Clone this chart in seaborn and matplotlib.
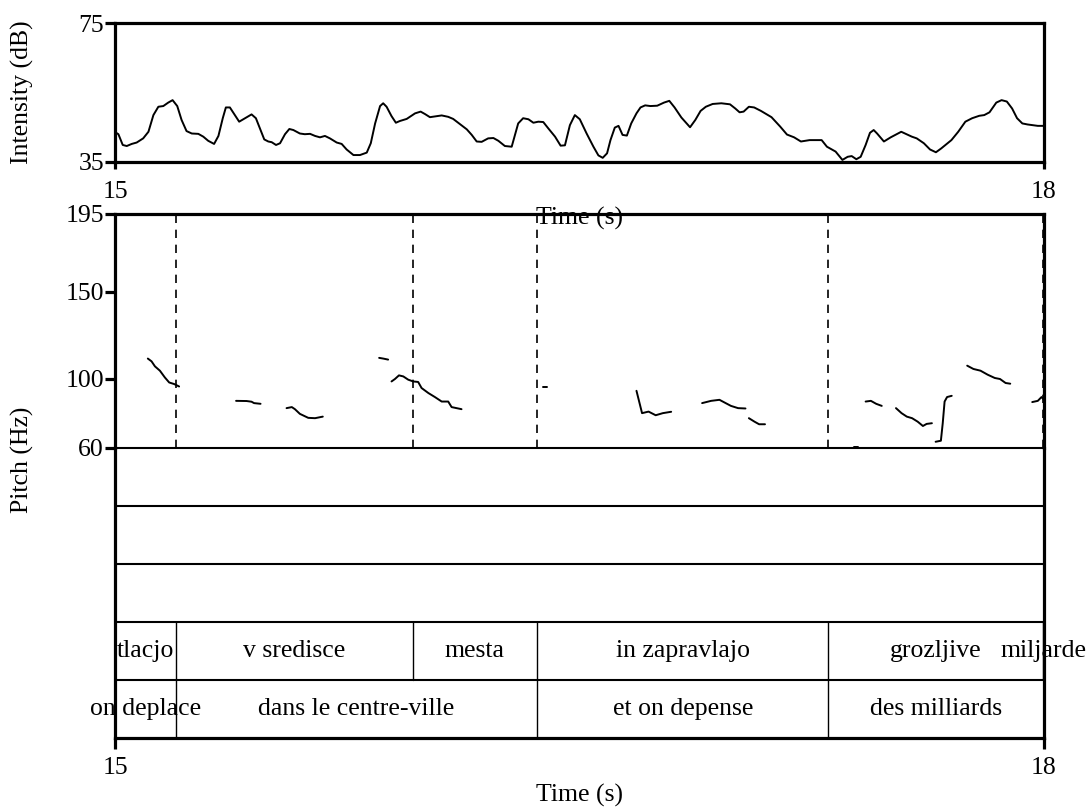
import numpy as np
import pandas as pd
import matplotlib
matplotlib.use("Agg")
import matplotlib.pyplot as plt
import seaborn as sns

# intensity contour, time (s) / dB
int_time = [15.0, 15.011, 15.025, 15.038, 15.054, 15.070, 15.091, 15.108, 15.124, 15.140, 15.156, 15.172,
            15.186, 15.201, 15.215, 15.231, 15.248, 15.269, 15.285, 15.301, 15.320, 15.334, 15.348,
            15.358, 15.371, 15.385, 15.401, 15.420, 15.441, 15.455, 15.468, 15.482, 15.495, 15.506,
            15.520, 15.533, 15.549, 15.563, 15.576, 15.597, 15.613, 15.630, 15.646, 15.662, 15.678,
            15.694, 15.716, 15.732, 15.748, 15.770, 15.791, 15.813, 15.826, 15.840, 15.856, 15.866,
            15.877, 15.893, 15.907, 15.920, 15.942, 15.969, 15.987, 16.001, 16.017, 16.039, 16.055,
            16.076, 16.092, 16.114, 16.136, 16.152, 16.168, 16.184, 16.205, 16.222, 16.238, 16.259,
            16.281, 16.302, 16.318, 16.335, 16.351, 16.367, 16.383, 16.399, 16.421, 16.439, 16.453,
            16.469, 16.485, 16.501, 16.523, 16.545, 16.561, 16.575, 16.589, 16.600, 16.614, 16.626,
            16.639, 16.653, 16.667, 16.684, 16.697, 16.712, 16.729, 16.751, 16.773, 16.790, 16.807,
            16.829, 16.857, 16.874, 16.891, 16.908, 16.930, 16.958, 16.986, 17.003, 17.017, 17.030,
            17.047, 17.064, 17.086, 17.120, 17.148, 17.170, 17.193, 17.215, 17.243, 17.282, 17.299,
            17.327, 17.349, 17.366, 17.379, 17.394, 17.408, 17.424, 17.438, 17.450, 17.461, 17.483,
            17.505, 17.539, 17.573, 17.589, 17.612, 17.632, 17.651, 17.668, 17.701, 17.723, 17.746,
            17.768, 17.791, 17.807, 17.824, 17.846, 17.863, 17.880, 17.897, 17.913, 17.930, 17.947,
            17.964, 17.980, 17.997, 18.0]
int_db = [43.6, 43.0, 39.9, 39.6, 40.2, 40.6, 41.8, 43.7, 48.5, 50.9, 51.1, 52.1,
          52.8, 51.1, 47.1, 43.9, 43.2, 43.1, 42.3, 41.1, 40.2, 42.5, 47.6,
          50.7, 50.7, 48.8, 46.6, 47.6, 48.7, 47.6, 44.7, 41.5, 40.9, 40.7,
          39.9, 40.4, 43.0, 44.5, 44.2, 43.2, 43.0, 43.1, 42.5, 42.1, 42.5,
          41.8, 40.6, 40.2, 38.6, 37.0, 37.0, 37.7, 40.4, 46.1, 51.1, 51.9,
          50.9, 48.2, 46.3, 46.8, 47.4, 49.0, 49.5, 48.8, 47.9, 48.2, 48.4,
          48.0, 47.4, 45.9, 44.4, 42.8, 40.9, 40.8, 41.8, 41.9, 41.1, 39.6,
          39.4, 46.1, 47.6, 47.3, 46.3, 46.6, 46.5, 44.7, 42.3, 39.7, 39.8,
          45.6, 48.5, 47.3, 43.2, 39.4, 36.9, 36.2, 37.5, 41.3, 44.9, 45.4,
          42.8, 42.6, 46.1, 49.0, 50.7, 51.3, 51.1, 51.2, 52.1, 52.6, 50.7,
          47.8, 45.0, 47.1, 49.7, 50.9, 51.7, 51.9, 51.6, 50.4, 49.3, 49.5,
          50.9, 50.7, 49.7, 47.9, 45.2, 42.9, 42.1, 40.9, 41.3, 41.3, 39.4,
          38.0, 35.6, 36.5, 36.7, 35.8, 36.5, 39.9, 43.4, 44.2, 43.2, 40.9,
          42.1, 43.7, 42.3, 41.8, 40.4, 38.6, 37.8, 38.9, 41.3, 43.7, 46.6,
          47.6, 48.3, 48.5, 49.3, 52.1, 52.8, 52.4, 50.4, 47.6, 46.1, 45.8,
          45.6, 45.4, 45.4, 45.5]

# pitch contour pieces, time (s) / Hz / piece id
pitch_time = [15.106, 15.118, 15.129, 15.145, 15.161, 15.175, 15.191, 15.207,
              15.391, 15.425, 15.441, 15.449, 15.470,
              15.554, 15.571, 15.581, 15.597, 15.624, 15.646, 15.671,
              15.853, 15.866, 15.882,
              15.893, 15.904, 15.917, 15.931, 15.947, 15.963, 15.979, 15.990, 16.012, 16.033,
              16.055, 16.076, 16.087, 16.103, 16.119,
              16.381, 16.394,
              16.684, 16.702, 16.723, 16.746, 16.769, 16.796,
              16.896, 16.925, 16.952, 16.972, 16.989, 17.012, 17.036,
              17.047, 17.065, 17.080, 17.099,
              17.386, 17.398,
              17.424, 17.441, 17.458, 17.476,
              17.522, 17.540, 17.557, 17.574, 17.592, 17.609, 17.621, 17.638,
              17.650, 17.667, 17.673, 17.679, 17.687, 17.702,
              17.752, 17.772, 17.795, 17.818, 17.841, 17.858, 17.876, 17.891,
              17.962, 17.980, 17.992, 18.0]
pitch_hz = [111.6, 110.0, 107.1, 104.6, 100.7, 97.8, 96.9, 95.5,
            87.2, 87.1, 86.7, 85.9, 85.5,
            83.0, 83.6, 82.4, 79.7, 77.4, 77.2, 78.1,
            112.0, 111.6, 111.0,
            98.4, 99.8, 101.9, 101.3, 99.4, 98.4, 98.1, 94.6, 91.7, 89.4,
            86.8, 86.8, 83.6, 83.0, 82.4,
            95.3, 95.3,
            93.0, 80.1, 81.0, 78.9, 80.1, 80.9,
            85.9, 87.2, 87.8, 85.9, 84.3, 83.0, 82.8,
            77.2, 75.2, 73.7, 73.7,
            60.8, 60.8,
            86.8, 87.2, 85.5, 84.3,
            83.0, 80.1, 78.1, 77.2, 75.2, 72.7, 73.9, 74.3,
            63.6, 64.2, 74.3, 86.8, 89.4, 90.1,
            107.5, 105.6, 104.6, 102.3, 100.4, 99.8, 97.5, 97.1,
            86.5, 87.2, 89.4, 87.8]
pitch_seg = ([1] * 8 + [2] * 5 + [3] * 7 + [4] * 3 + [5] * 15 + [6] * 2 + [7] * 6 + [8] * 7
             + [9] * 4 + [10] * 2 + [11] * 4 + [12] * 8 + [13] * 6 + [14] * 8 + [15] * 4)

# text grid tiers
tier1_bounds = [15.197, 15.962, 16.363, 17.304, 17.996]
tier1_labels = ["tlacjo", "v sredisce", "mesta", "in zapravlajo", "grozljive", "miljarde"]
tier2_bounds = [15.197, 16.363, 17.304]
tier2_labels = ["on deplace", "dans le centre-ville", "et on depense", "des milliards"]

t_min, t_max = 15, 18

sns.set_theme(style="white", rc={"axes.edgecolor": "black", "text.color": "black",
                                 "axes.labelcolor": "black", "xtick.color": "black",
                                 "ytick.color": "black"})
plt.rcParams["font.family"] = ["Liberation Serif", "DejaVu Serif"]
plt.rcParams["font.size"] = 18.5

fig = plt.figure(figsize=(10.9, 8.1), dpi=100)
L, W = 115 / 1090, 929 / 1090
ax_int = fig.add_axes([L, 1 - 162 / 810, W, 139 / 810])
ax_tier = fig.add_axes([L, 1 - 738 / 810, W, 290 / 810])
ax_pitch = fig.add_axes([L, 1 - 448 / 810, W, 234 / 810])

thick = 2.3
fs = 18.5

# intensity
sns.lineplot(x=int_time, y=int_db, ax=ax_int, color="black", lw=1.4, estimator=None, sort=False)
ax_int.set_xlim(t_min, t_max)
ax_int.set_ylim(35, 75)
ax_int.set_xticks([15, 18])
ax_int.set_yticks([35, 75])
ax_int.tick_params(axis="y", left=True, direction="out", length=7, width=thick, pad=1, labelsize=fs)
ax_int.tick_params(axis="x", bottom=True, direction="out", length=5, width=thick, pad=9, labelsize=fs)
for s in ax_int.spines.values():
    s.set_linewidth(thick)
ax_int.set_xlabel("Time (s)", fontsize=fs, va="center")
ax_int.xaxis.set_label_coords(0.5, -(218 - 162) / 139)
ax_int.set_ylabel("")
ax_int.set_zorder(3)
ax_int.patch.set_alpha(0)

# pitch
pitch = pd.DataFrame({"t": pitch_time, "hz": pitch_hz, "seg": pitch_seg})
sns.lineplot(data=pitch, x="t", y="hz", units="seg", estimator=None, sort=False,
             color="black", lw=1.4, ax=ax_pitch)
for b in tier1_bounds:
    ax_pitch.axvline(b, color="black", lw=1.2, ls=(0, (5, 4)))
ax_pitch.set_xlim(t_min, t_max)
ax_pitch.set_ylim(60, 195)
ax_pitch.set_yticks([60, 100, 150, 195])
ax_pitch.set_xticks([])
ax_pitch.tick_params(axis="y", left=True, direction="out", length=7, width=thick, pad=1, labelsize=fs)
for s in ax_pitch.spines.values():
    s.set_linewidth(thick)
ax_pitch.spines["bottom"].set_linewidth(1.5)
ax_pitch.set_xlabel("")
ax_pitch.set_ylabel("")
ax_pitch.patch.set_alpha(0)

# tiers
ax_tier.set_xlim(t_min, t_max)
ax_tier.set_ylim(0, 5)
for y in [1, 2, 3, 4]:
    ax_tier.axhline(y, color="black", lw=1.5)
for b in tier1_bounds:
    ax_tier.plot([b, b], [1, 2], color="black", lw=1.0)
for b in tier2_bounds:
    ax_tier.plot([b, b], [0, 1], color="black", lw=1.0)

def draw_tier(bounds, labels, y):
    edges = [t_min] + bounds + [t_max]
    for a, b, lab in zip(edges[:-1], edges[1:], labels):
        ax_tier.text((a + b) / 2, y, lab, ha="center", va="center", fontsize=fs)

draw_tier(tier1_bounds, tier1_labels, 1.5)
draw_tier(tier2_bounds, tier2_labels, 0.5)

ax_tier.set_xticks([15, 18])
ax_tier.set_yticks([])
ax_tier.tick_params(axis="x", bottom=True, direction="out", length=8, width=thick, pad=6, labelsize=fs)
for s in ax_tier.spines.values():
    s.set_linewidth(thick)
ax_tier.spines["top"].set_visible(False)
ax_tier.set_xlabel("Time (s)", fontsize=fs, va="center")
ax_tier.xaxis.set_label_coords(0.5, -(795 - 738) / 290)

fig.text(22 / 1090, 1 - 92.5 / 810, "Intensity (dB)", rotation=90, ha="center", va="center", fontsize=fs)
fig.text(22 / 1090, 1 - 460 / 810, "Pitch (Hz)", rotation=90, ha="center", va="center", fontsize=fs)

fig.savefig("out.png", dpi=100)
